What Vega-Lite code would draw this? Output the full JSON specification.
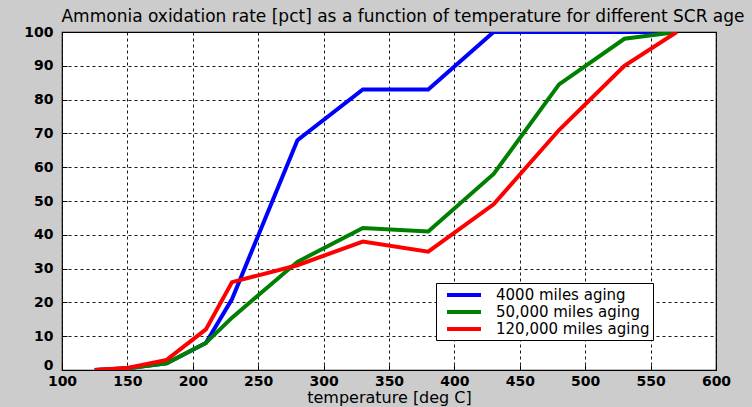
{
  "$schema": "https://vega.github.io/schema/vega-lite/v6.json",
  "width": 654,
  "height": 338,
  "autosize": {"type": "none"},
  "padding": {"left": 62, "top": 32, "right": 36, "bottom": 37},
  "background": "#cccccc",
  "title": {
    "text": "Ammonia oxidation rate [pct] as a function of temperature for different SCR age",
    "font": "DejaVu Sans",
    "fontSize": 17,
    "fontWeight": "normal",
    "color": "#000000",
    "offset": -1,
    "dx": 14,
    "anchor": "middle"
  },
  "config": {
    "view": {"stroke": "#000000", "strokeWidth": 1.2, "fill": "#ffffff"},
    "axis": {
      "labelFont": "DejaVu Sans",
      "labelFontSize": 14,
      "labelFontWeight": "bold",
      "labelColor": "#000000",
      "labelFlush": false,
      "titleFont": "DejaVu Sans",
      "titleFontSize": 16,
      "titleFontWeight": "normal",
      "titleColor": "#000000",
      "domain": false,
      "grid": true,
      "gridColor": "#000000",
      "gridDash": [3, 3],
      "gridOpacity": 0.9,
      "gridWidth": 1,
      "tickColor": "#000000",
      "tickSize": -5
    }
  },
  "data": {
    "values": [
      {"temp": 125, "rate": 0, "series": "4000 miles aging"},
      {"temp": 150, "rate": 0.5, "series": "4000 miles aging"},
      {"temp": 180, "rate": 2, "series": "4000 miles aging"},
      {"temp": 210, "rate": 8, "series": "4000 miles aging"},
      {"temp": 230, "rate": 21, "series": "4000 miles aging"},
      {"temp": 280, "rate": 68, "series": "4000 miles aging"},
      {"temp": 330, "rate": 83, "series": "4000 miles aging"},
      {"temp": 380, "rate": 83, "series": "4000 miles aging"},
      {"temp": 430, "rate": 100, "series": "4000 miles aging"},
      {"temp": 480, "rate": 100, "series": "4000 miles aging"},
      {"temp": 530, "rate": 100, "series": "4000 miles aging"},
      {"temp": 570, "rate": 100, "series": "4000 miles aging"},
      {"temp": 125, "rate": 0, "series": "50,000 miles aging"},
      {"temp": 150, "rate": 0.5, "series": "50,000 miles aging"},
      {"temp": 180, "rate": 2, "series": "50,000 miles aging"},
      {"temp": 210, "rate": 8, "series": "50,000 miles aging"},
      {"temp": 230, "rate": 15.5, "series": "50,000 miles aging"},
      {"temp": 280, "rate": 32, "series": "50,000 miles aging"},
      {"temp": 330, "rate": 42, "series": "50,000 miles aging"},
      {"temp": 380, "rate": 41, "series": "50,000 miles aging"},
      {"temp": 430, "rate": 58, "series": "50,000 miles aging"},
      {"temp": 480, "rate": 84.5, "series": "50,000 miles aging"},
      {"temp": 530, "rate": 98, "series": "50,000 miles aging"},
      {"temp": 570, "rate": 100, "series": "50,000 miles aging"},
      {"temp": 125, "rate": 0, "series": "120,000 miles aging"},
      {"temp": 150, "rate": 0.6, "series": "120,000 miles aging"},
      {"temp": 180, "rate": 3, "series": "120,000 miles aging"},
      {"temp": 210, "rate": 12, "series": "120,000 miles aging"},
      {"temp": 230, "rate": 26, "series": "120,000 miles aging"},
      {"temp": 280, "rate": 31, "series": "120,000 miles aging"},
      {"temp": 330, "rate": 38, "series": "120,000 miles aging"},
      {"temp": 380, "rate": 35, "series": "120,000 miles aging"},
      {"temp": 430, "rate": 49, "series": "120,000 miles aging"},
      {"temp": 480, "rate": 71, "series": "120,000 miles aging"},
      {"temp": 530, "rate": 90, "series": "120,000 miles aging"},
      {"temp": 570, "rate": 100, "series": "120,000 miles aging"}
    ]
  },
  "mark": {"type": "line", "strokeWidth": 4, "clip": true},
  "encoding": {
    "x": {
      "field": "temp",
      "type": "quantitative",
      "scale": {"domain": [100, 600], "nice": false},
      "axis": {"values": [100, 150, 200, 250, 300, 350, 400, 450, 500, 550, 600], "title": "temperature [deg C]", "titlePadding": 1, "labelPadding": 9}
    },
    "y": {
      "field": "rate",
      "type": "quantitative",
      "scale": {"domain": [0, 100], "nice": false},
      "axis": {
        "values": [0, 10, 20, 30, 40, 50, 60, 70, 80, 90, 100],
        "title": null,
        "labelPadding": 14,
        "labelOffset": {"condition": {"test": "datum.value === 0", "value": -5}, "value": 0}
      }
    },
    "color": {
      "field": "series",
      "type": "nominal",
      "sort": null,
      "scale": {
        "domain": ["4000 miles aging", "50,000 miles aging", "120,000 miles aging"],
        "range": ["#0000ff", "#008000", "#ff0000"]
      },
      "legend": {
        "title": null,
        "orient": "none",
        "legendX": 374,
        "legendY": 251,
        "symbolType": "M-2.5,0H2.5",
        "symbolStrokeWidth": 4,
        "symbolSize": 185,
        "symbolOffset": 16,
        "labelOffset": 23,
        "labelLimit": 400,
        "labelFont": "DejaVu Sans",
        "labelFontSize": 15,
        "labelColor": "#000000",
        "fillColor": "#ffffff",
        "strokeColor": "#000000",
        "padding": 3,
        "rowPadding": 0
      }
    }
  }
}
